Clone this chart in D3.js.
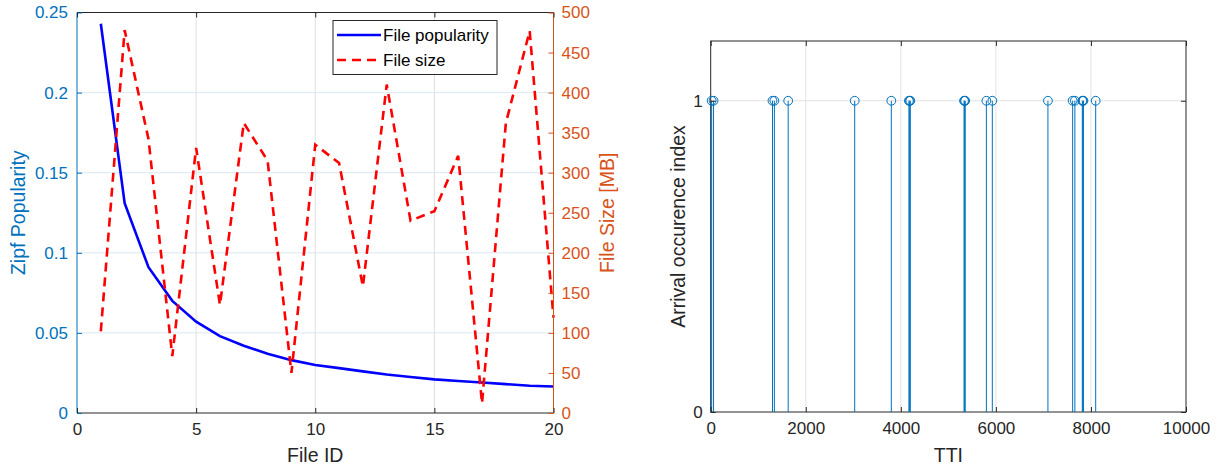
<!DOCTYPE html>
<html><head><meta charset="utf-8">
<script src="https://cdn.jsdelivr.net/npm/d3@7"></script>
<style>body{margin:0;background:#fff;} svg{display:block;} text{font-family:"Liberation Sans",Arial,sans-serif;}</style>
</head><body>
<svg id="c" width="1219" height="470"></svg>
<script>
// ---- Data ----
const fileIds = [1,2,3,4,5,6,7,8,9,10,11,12,13,14,15,16,17,18,19,20];
const popularity = [0.243,0.131,0.091,0.070,0.057,0.048,0.042,0.037,0.033,0.030,0.028,0.026,0.024,0.0225,0.021,0.020,0.019,0.018,0.017,0.0165];
const fileSize = [102,478,342,71,331,135,362,315,50,335,312,158,410,240,252,321,12,362,477,119];
const leftYTicks = [0,0.05,0.1,0.15,0.2,0.25];
const rightYTicks = [0,50,100,150,200,250,300,350,400,450,500];
const leftXTicks = [0,5,10,15,20];
const arrivalTTI = [20,60,1300,1340,1630,3030,3800,4170,4185,4200,5330,5342,5355,5800,5925,7095,7615,7662,7818,7830,7842,8100];
const arrivalVal = arrivalTTI.map(()=>1);
const rightXTicks = [0,2000,4000,6000,8000,10000];
const stemYTicks = [0,1];

const blue="#0072BD", orange="#D95319", dark="#262626";
const tickFs="17px", labFs="19.5px", legFs="17px";
const svg=d3.select("#c");

// ---- Left chart ----
const L={l:77,r:553.5,t:12.5,b:413};
const x1=d3.scaleLinear().domain([0,20]).range([L.l,L.r]);
const y1=d3.scaleLinear().domain([0,0.25]).range([L.b,L.t]);
const y2=d3.scaleLinear().domain([0,500]).range([L.b,L.t]);
const g1=svg.append("g");
// grid
g1.selectAll(".vg").data(leftXTicks.slice(1,-1)).join("line")
  .attr("x1",d=>x1(d)).attr("x2",d=>x1(d)).attr("y1",L.t).attr("y2",L.b)
  .attr("stroke","#dfdfdf").attr("stroke-width",1);
g1.selectAll(".hg").data(leftYTicks.slice(1,-1)).join("line")
  .attr("x1",L.l).attr("x2",L.r).attr("y1",d=>y1(d)).attr("y2",d=>y1(d))
  .attr("stroke","#dbe8f3").attr("stroke-width",1);
// lines
g1.append("path").datum(fileIds.map((d,i)=>[d,popularity[i]]))
  .attr("fill","none").attr("stroke","#0000FF").attr("stroke-width",2.6)
  .attr("d",d3.line().x(d=>x1(d[0])).y(d=>y1(d[1])));
g1.append("path").datum(fileIds.map((d,i)=>[d,fileSize[i]]))
  .attr("fill","none").attr("stroke","#FF0000").attr("stroke-width",2.6)
  .attr("stroke-dasharray","9,6")
  .attr("d",d3.line().x(d=>x1(d[0])).y(d=>y2(d[1])));
// frame
g1.append("line").attr("x1",L.l).attr("x2",L.r).attr("y1",L.t).attr("y2",L.t).attr("stroke",dark).attr("stroke-width",1);
g1.append("line").attr("x1",L.l).attr("x2",L.r).attr("y1",L.b).attr("y2",L.b).attr("stroke",dark).attr("stroke-width",1);
g1.append("line").attr("x1",L.l).attr("x2",L.l).attr("y1",L.t).attr("y2",L.b).attr("stroke",blue).attr("stroke-width",1);
g1.append("line").attr("x1",L.r).attr("x2",L.r).attr("y1",L.t).attr("y2",L.b).attr("stroke",orange).attr("stroke-width",1);
// axes with d3
const axL=d3.axisLeft(y1).tickValues(leftYTicks).tickSize(-5).tickPadding(9).tickFormat(d3.format("~g"));
const gL=g1.append("g").attr("transform",`translate(${L.l},0)`).call(axL);
gL.select(".domain").remove();
gL.selectAll("line").attr("stroke",blue);
gL.selectAll("text").attr("fill",blue).style("font-size",tickFs);
const axR=d3.axisRight(y2).tickValues(rightYTicks).tickSize(-5).tickPadding(8);
const gR=g1.append("g").attr("transform",`translate(${L.r},0)`).call(axR);
gR.select(".domain").remove();
gR.selectAll("line").attr("stroke",orange);
gR.selectAll("text").attr("fill",orange).style("font-size",tickFs);
const axB=d3.axisBottom(x1).tickValues(leftXTicks).tickSize(-5).tickPadding(10);
const gB=g1.append("g").attr("transform",`translate(0,${L.b})`).call(axB);
gB.select(".domain").remove();
gB.selectAll("line").attr("stroke",dark);
gB.selectAll("text").attr("fill",dark).style("font-size",tickFs);
const axT=d3.axisTop(x1).tickValues(leftXTicks).tickSize(-5).tickFormat("");
const gT=g1.append("g").attr("transform",`translate(0,${L.t})`).call(axT);
gT.select(".domain").remove(); gT.selectAll("line").attr("stroke",dark);
// labels
g1.append("text").attr("transform",`translate(25,${(L.t+L.b)/2}) rotate(-90)`).attr("text-anchor","middle")
  .attr("fill",blue).style("font-size",labFs).text("Zipf Popularity");
g1.append("text").attr("transform",`translate(614,${(L.t+L.b)/2}) rotate(-90)`).attr("text-anchor","middle")
  .attr("fill",orange).style("font-size",labFs).text("File Size [MB]");
g1.append("text").attr("x",(L.l+L.r)/2).attr("y",462).attr("text-anchor","middle")
  .attr("fill",dark).style("font-size",labFs).text("File ID");
// legend
const lg=g1.append("g");
lg.append("rect").attr("x",333).attr("y",20.5).attr("width",164).attr("height",54)
  .attr("fill","#fff").attr("stroke",dark).attr("stroke-width",1);
lg.append("line").attr("x1",337).attr("x2",381).attr("y1",35).attr("y2",35).attr("stroke","#0000FF").attr("stroke-width",2.6);
lg.append("line").attr("x1",337).attr("x2",381).attr("y1",60).attr("y2",60).attr("stroke","#FF0000").attr("stroke-width",2.6).attr("stroke-dasharray","9,6");
lg.append("text").attr("x",383).attr("y",41).attr("fill","#000").style("font-size",legFs).text("File popularity");
lg.append("text").attr("x",383).attr("y",66).attr("fill","#000").style("font-size",legFs).text("File size");

// ---- Right chart ----
const R={l:710.7,r:1186,t:41,b:412};
const x3=d3.scaleLinear().domain([0,10000]).range([R.l,R.r]);
const y3=d3.scaleLinear().domain([0,1.192]).range([R.b,R.t]);
const g2=svg.append("g");
g2.selectAll(".vg").data(rightXTicks.slice(1,-1)).join("line")
  .attr("x1",d=>x3(d)).attr("x2",d=>x3(d)).attr("y1",R.t).attr("y2",R.b)
  .attr("stroke","#e3e3e3").attr("stroke-width",1);
g2.append("line").attr("x1",R.l).attr("x2",R.r).attr("y1",y3(1)).attr("y2",y3(1))
  .attr("stroke","#e3e3e3").attr("stroke-width",1);
g2.append("rect").attr("x",R.l).attr("y",R.t).attr("width",R.r-R.l).attr("height",R.b-R.t)
  .attr("fill","none").attr("stroke",dark).attr("stroke-width",1);
// stems
g2.selectAll(".stem").data(arrivalTTI).join("line")
  .attr("x1",d=>x3(d)).attr("x2",d=>x3(d)).attr("y1",y3(0)).attr("y2",(d,i)=>y3(arrivalVal[i]))
  .attr("stroke",blue).attr("stroke-width",1);
g2.selectAll(".mk").data(arrivalTTI).join("circle")
  .attr("cx",d=>x3(d)).attr("cy",(d,i)=>y3(arrivalVal[i])).attr("r",4.4)
  .attr("fill","none").attr("stroke",blue).attr("stroke-width",1);
// axes
const ax3=d3.axisBottom(x3).tickValues(rightXTicks).tickSize(-5).tickPadding(10).tickFormat(d3.format("d"));
const g3=g2.append("g").attr("transform",`translate(0,${R.b})`).call(ax3);
g3.select(".domain").remove(); g3.selectAll("line").attr("stroke",dark);
g3.selectAll("text").attr("fill",dark).style("font-size",tickFs);
const ax4=d3.axisLeft(y3).tickValues(stemYTicks).tickSize(-5).tickPadding(8).tickFormat(d3.format("d"));
const g4=g2.append("g").attr("transform",`translate(${R.l},0)`).call(ax4);
g4.select(".domain").remove(); g4.selectAll("line").attr("stroke",dark);
g4.selectAll("text").attr("fill",dark).style("font-size",tickFs);
const ax5=d3.axisRight(y3).tickValues(stemYTicks).tickSize(-5).tickFormat("");
const g5=g2.append("g").attr("transform",`translate(${R.r},0)`).call(ax5);
g5.select(".domain").remove(); g5.selectAll("line").attr("stroke",dark);
const ax6=d3.axisTop(x3).tickValues(rightXTicks).tickSize(-5).tickFormat("");
const g6=g2.append("g").attr("transform",`translate(0,${R.t})`).call(ax6);
g6.select(".domain").remove(); g6.selectAll("line").attr("stroke",dark);
g2.append("text").attr("transform",`translate(685,${(R.t+R.b)/2}) rotate(-90)`).attr("text-anchor","middle")
  .attr("fill",dark).style("font-size",labFs).text("Arrival occurence index");
g2.append("text").attr("x",(R.l+R.r)/2).attr("y",462).attr("text-anchor","middle")
  .attr("fill",dark).style("font-size",labFs).text("TTI");
</script>
</body></html>
